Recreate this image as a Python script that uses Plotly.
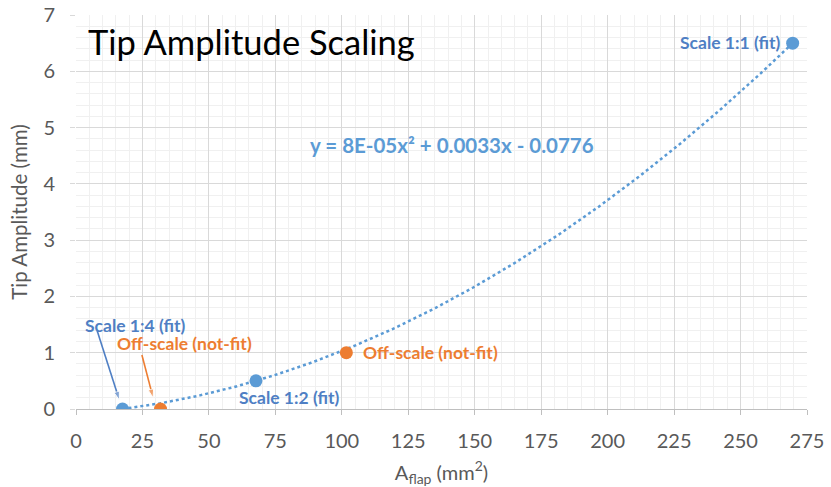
import numpy as np
import plotly.graph_objects as go

# --- data ---
fit_labels = ["Scale 1:4 (fit)", "Scale 1:2 (fit)", "Scale 1:1 (fit)"]
fit_area = [17.5, 67.7, 269.6]        # A_flap (mm^2)
fit_amp = [0.0, 0.5, 6.5]             # tip amplitude (mm)

off_labels = ["Off-scale (not-fit)", "Off-scale (not-fit)"]
off_area = [31.8, 101.7]
off_amp = [0.0, 1.0]

equation_text = "y = 8E-05x\u00b2 + 0.0033x - 0.0776"
x_ticks = [0, 25, 50, 75, 100, 125, 150, 175, 200, 225, 250, 275]
y_ticks = [0, 1, 2, 3, 4, 5, 6, 7]

# arrow tails/heads (data units) for the two leader arrows
arrow_blue_x = [7.9, 16.3]
arrow_blue_y = [1.40, 0.16]
arrow_orange_x = [24.8, 29.0]
arrow_orange_y = [0.96, 0.20]

BLUE = "#5B9BD5"
BLUE_TXT = "#4F7FC4"
ORANGE = "#ED7D31"
GRAY = "#595959"
FONT = "Lato, 'Open Sans', sans-serif"

# polynomial trendline fitted to the "fit" points
coef = np.polyfit(fit_area, fit_amp, 2)
xt = np.linspace(min(fit_area), max(fit_area), 200)
yt = np.polyval(coef, xt)

fig = go.Figure()
fig.add_trace(go.Scatter(x=xt, y=yt, mode="lines",
                         line=dict(color=BLUE, width=2.5, dash="dot"),
                         hoverinfo="skip", showlegend=False))
# leader arrows
for ax_, ay_, col in [(arrow_blue_x, arrow_blue_y, BLUE_TXT),
                      (arrow_orange_x, arrow_orange_y, ORANGE)]:
    fig.add_trace(go.Scatter(x=ax_, y=ay_, mode="lines+markers",
                             line=dict(color=col, width=1.6),
                             marker=dict(symbol="arrow", size=[0, 9], angleref="previous",
                                         color=col),
                             hoverinfo="skip", showlegend=False))
fig.add_trace(go.Scatter(x=fit_area, y=fit_amp, mode="markers",
                         marker=dict(color=BLUE, size=13), showlegend=False))
fig.add_trace(go.Scatter(x=off_area, y=off_amp, mode="markers",
                         marker=dict(color=ORANGE, size=13), showlegend=False))

ann_font = dict(family=FONT, size=17.5)

annotations = [
    # title
    dict(text="Tip Amplitude Scaling", xref="paper", yref="paper", x=0.014, y=0.99,
         xanchor="left", yanchor="top", showarrow=False,
         font=dict(family=FONT, size=34.5, color="#000000")),
    # equation
    dict(text="<b>" + equation_text + "</b>", x=141.4, y=4.69, xanchor="center", yanchor="middle",
         showarrow=False, font=dict(family=FONT, size=20.5, color=BLUE)),
    # Scale 1:1
    dict(text="<b>" + fit_labels[2] + "</b>", x=fit_area[2] - 4, y=fit_amp[2] + 0.02, xanchor="right",
         yanchor="middle", showarrow=False, font=dict(ann_font, color=BLUE_TXT)),
    # Scale 1:2
    dict(text="<b>" + fit_labels[1] + "</b>", x=80.1, y=0.21, xanchor="center",
         yanchor="middle", showarrow=False, font=dict(ann_font, color=BLUE_TXT)),
    # Scale 1:4
    dict(text="<b>" + fit_labels[0] + "</b>", x=22.2, y=1.49, xanchor="center",
         yanchor="middle", showarrow=False, font=dict(ann_font, color=BLUE_TXT)),
    # Off-scale (first)
    dict(text="<b>" + off_labels[0] + "</b>", x=40.8, y=1.17, xanchor="center",
         yanchor="middle", showarrow=False, font=dict(ann_font, color=ORANGE)),
    # Off-scale (second)
    dict(text="<b>" + off_labels[1] + "</b>", x=off_area[1] + 5.5, y=off_amp[1], xanchor="left",
         yanchor="middle", showarrow=False, font=dict(ann_font, color=ORANGE)),
]

fig.update_layout(
    width=831, height=487,
    margin=dict(l=76, r=24, t=15, b=78),
    paper_bgcolor="white", plot_bgcolor="white",
    annotations=annotations,
    font=dict(family=FONT, color=GRAY),
    xaxis=dict(range=[0, 275], tickvals=x_ticks, ticktext=[str(v) for v in x_ticks],
               automargin=False, ticklabeloverflow="allow",
               showgrid=True, gridcolor="#d9d9d9", gridwidth=1,
               minor=dict(dtick=5, showgrid=True, gridcolor="#f0f0f0", gridwidth=1),
               ticks="outside", ticklen=5, tickcolor="#bfbfbf",
               showline=True, linecolor="#bfbfbf", zeroline=False,
               ticklabelstandoff=9,
               tickfont=dict(family=FONT, size=20, color=GRAY),
               title=dict(text="A<sub>flap</sub> (mm<sup>2</sup>)",
                          font=dict(family=FONT, size=20, color=GRAY), standoff=18)),
    yaxis=dict(range=[0, 7], tickvals=y_ticks, ticktext=[str(v) for v in y_ticks],
               automargin=False, ticklabeloverflow="allow",
               showgrid=True, gridcolor="#d9d9d9", gridwidth=1,
               minor=dict(dtick=0.2, showgrid=True, gridcolor="#f0f0f0", gridwidth=1),
               ticks="outside", ticklen=5, tickcolor="#d9d9d9",
               showline=False, zeroline=False,
               ticklabelstandoff=11,
               tickfont=dict(family=FONT, size=20, color=GRAY),
               title=dict(text="Tip Amplitude (mm)",
                          font=dict(family=FONT, size=20.5, color=GRAY), standoff=10)),
)

# remove the default 8px page margin so the figure sits at the window origin
fig.write_html("out.html",
               config={"displayModeBar": False},
               post_script="document.body.style.margin='0px';document.body.style.overflow='hidden';")
